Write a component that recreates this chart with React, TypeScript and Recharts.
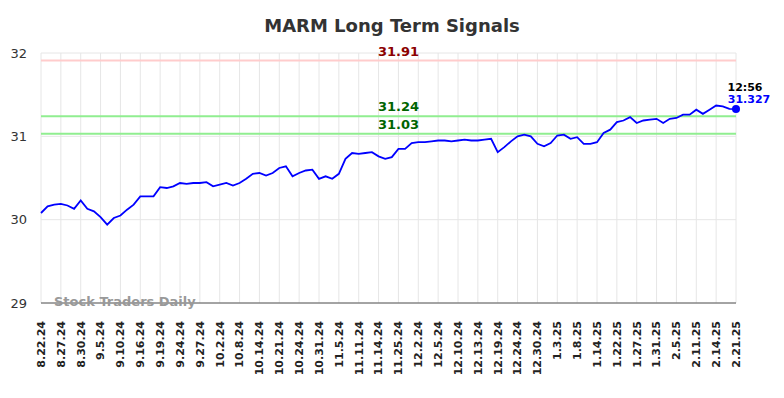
import { LineChart, Line, XAxis, YAxis, CartesianGrid, ReferenceLine } from 'recharts';

const TICK_LABELS = [
    '8.22.24', '8.27.24', '8.30.24', '9.5.24', '9.10.24', '9.16.24', '9.19.24', '9.24.24', '9.27.24',
    '10.2.24', '10.8.24', '10.14.24', '10.21.24', '10.24.24', '10.31.24', '11.5.24', '11.11.24', '11.14.24',
    '11.25.24', '12.2.24', '12.5.24', '12.10.24', '12.13.24', '12.19.24', '12.24.24', '12.30.24', '1.3.25',
    '1.8.25', '1.14.25', '1.22.25', '1.27.25', '1.31.25', '2.5.25', '2.11.25', '2.14.25', '2.21.25',
];

// one value per trading point, three points between labelled ticks
const PRICES = [
    30.08, 30.16, 30.18, 30.19, 30.17, 30.13, 30.23, 30.13, 30.10, 30.03,
    29.94, 30.02, 30.05, 30.12, 30.18, 30.28, 30.28, 30.28, 30.39, 30.38,
    30.40, 30.44, 30.43, 30.44, 30.44, 30.45, 30.40, 30.42, 30.44, 30.41,
    30.44, 30.49, 30.55, 30.56, 30.53, 30.56, 30.62, 30.64, 30.52, 30.56,
    30.59, 30.60, 30.49, 30.52, 30.49, 30.55, 30.73, 30.80, 30.79, 30.80,
    30.81, 30.76, 30.73, 30.75, 30.85, 30.85, 30.92, 30.93, 30.93, 30.94,
    30.95, 30.95, 30.94, 30.95, 30.96, 30.95, 30.95, 30.96, 30.97, 30.81,
    30.87, 30.94, 31.00, 31.02, 31.00, 30.91, 30.88, 30.92, 31.01, 31.02,
    30.97, 30.99, 30.91, 30.91, 30.93, 31.04, 31.08, 31.17, 31.19, 31.23,
    31.16, 31.19, 31.20, 31.21, 31.16, 31.21, 31.22, 31.26, 31.26, 31.32,
    31.27, 31.32, 31.37, 31.36, 31.33, 31.327,
];

const RESISTANCE = 31.91;
const SUPPORTS = [31.24, 31.03];
const Y_TICKS = [29, 30, 31, 32];
const LAST_TIME = '12:56';

const FONT = '"DejaVu Sans", sans-serif';

const data = PRICES.map((v, i) => ({ i, v }));
const xTicks = TICK_LABELS.map((_, k) => k * 3);
const lastIndex = PRICES.length - 1;

function XTick({ x, y, payload }: any) {
    return (
        <text
            x={x}
            y={y}
            transform={`rotate(-90, ${x}, ${y})`}
            textAnchor="end"
            dy="0.35em"
            fontSize={11}
            fontWeight="bold"
            fill="#222"
            fontFamily={FONT}
        >
            {TICK_LABELS[payload.value / 3]}
        </text>
    );
}

function LastDot(props: any) {
    const { cx, cy, index } = props;
    if (index !== lastIndex) return <g key={`d-${index}`} />;
    return (
        <g key={`d-${index}`}>
            <circle cx={cx} cy={cy} r={4} fill="#0000ff" />
            <text x={cx + 9} y={cy - 22} textAnchor="middle" dominantBaseline="central" fontSize={11} fontWeight="bold" fill="#000" fontFamily={FONT}>
                {LAST_TIME}
            </text>
            <text x={cx + 13} y={cy - 10} textAnchor="middle" dominantBaseline="central" fontSize={11} fontWeight="bold" fill="#0000ff" fontFamily={FONT}>
                {PRICES[lastIndex]}
            </text>
        </g>
    );
}

export default function App() {
    return (
        <div style={{ position: 'relative', width: 784, height: 398, background: '#fff', fontFamily: FONT }}>
            <style>{'body{margin:0}'}</style>
            <div style={{ position: 'absolute', left: 0, top: 15, width: 784, textAlign: 'center', fontSize: 18, fontWeight: 'bold', color: '#333' }}>
                MARM Long Term Signals
            </div>
            <LineChart width={784} height={398} data={data} margin={{ top: 53, right: 48, bottom: 0, left: 0 }}>
                <CartesianGrid stroke="#e6e6e6" strokeWidth={1} />
                <XAxis
                    dataKey="i"
                    type="number"
                    domain={[0, lastIndex]}
                    ticks={xTicks}
                    interval={0}
                    height={95}
                    tick={<XTick />}
                    tickLine={false}
                    tickMargin={12}
                    axisLine={{ stroke: '#555', strokeWidth: 1 }}
                />
                <YAxis
                    domain={[29, 32]}
                    ticks={Y_TICKS}
                    width={41}
                    tickLine={false}
                    axisLine={false}
                    tickMargin={8}
                    tick={{ fontSize: 13, fill: '#333', fontFamily: FONT }}
                />
                <ReferenceLine
                    y={RESISTANCE}
                    stroke="#ffcccc"
                    strokeWidth={2}
                    label={{ value: RESISTANCE.toFixed(2), position: 'top', dx: 10, fill: '#8b0000', fontSize: 13, fontWeight: 'bold', fontFamily: FONT }}
                />
                {SUPPORTS.map((s) => (
                    <ReferenceLine
                        key={s}
                        y={s}
                        stroke="#90ee90"
                        strokeWidth={2}
                        label={{ value: s.toFixed(2), position: 'top', dx: 10, fill: '#006400', fontSize: 13, fontWeight: 'bold', fontFamily: FONT }}
                    />
                ))}
                <Line
                    dataKey="v"
                    stroke="#0000ff"
                    strokeWidth={1.8}
                    dot={LastDot}
                    activeDot={false}
                    isAnimationActive={false}
                />
            </LineChart>
            <div style={{ position: 'absolute', left: 54, top: 294, fontSize: 13, fontWeight: 'bold', color: '#999', whiteSpace: 'nowrap' }}>
                Stock Traders Daily
            </div>
        </div>
    );
}
